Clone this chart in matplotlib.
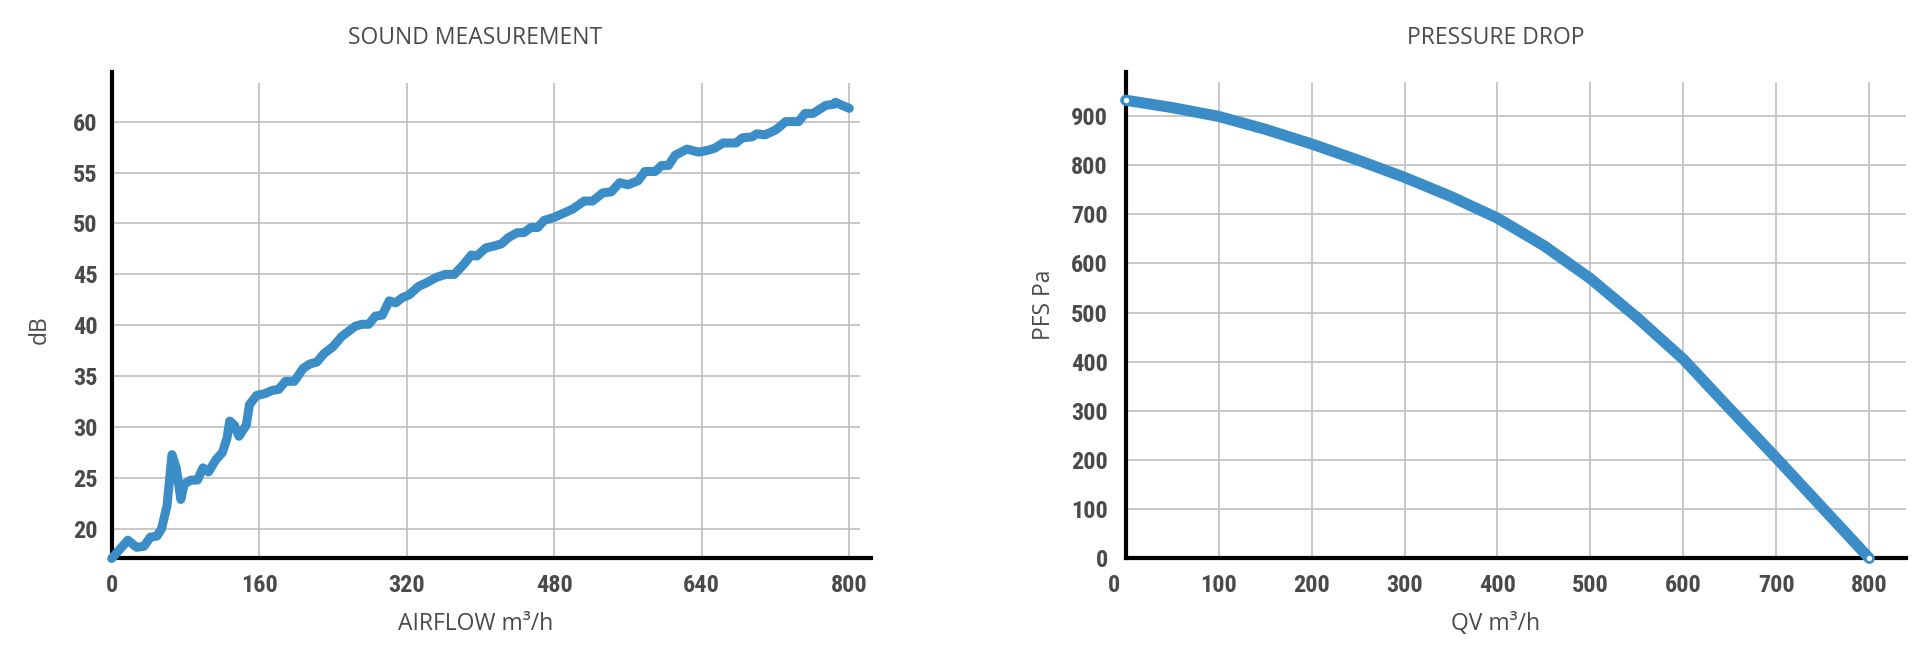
import matplotlib
matplotlib.use('Agg')
import matplotlib.pyplot as plt
from matplotlib import font_manager as fm
import matplotlib.transforms as mtrans

# ---------------- data ----------------
sound_airflow = [0, 17.6, 27, 35, 42, 49, 54, 60, 65.4, 70, 75, 78.6, 86, 93, 99, 105, 113, 120, 125, 128,
                 133, 138, 146, 149.4, 157, 166.5, 174, 181, 188.5, 198, 208, 215, 222.7, 230, 240, 249.5,
                 264, 271.5, 278.8, 286, 293.5, 301, 308, 315, 322.8, 332.5, 342, 352, 362, 371.6, 381, 390,
                 396, 405.8, 415.5, 422.8, 430, 440, 447, 454.6, 462, 469, 480, 492.4, 499.7, 512.5, 521.6,
                 532.6, 541.7, 550.9, 560, 571, 578.3, 589.3, 596.6, 603.9, 611.2, 624, 636.7, 647.3, 654.3,
                 663, 671.7, 677, 684, 694.4, 699.6, 708.3, 713.5, 720.5, 731, 738, 745, 752, 760.6, 767.6,
                 774.6, 783.3, 785, 792, 800]
sound_db = [17.1, 18.9, 18.2, 18.3, 19.2, 19.3, 20.0, 22.3, 27.3, 26.0, 22.9, 24.4, 24.8, 24.8, 26.0, 25.6,
            26.8, 27.5, 28.9, 30.6, 30.2, 29.1, 30.2, 32.2, 33.1, 33.3, 33.6, 33.7, 34.5, 34.5, 35.8, 36.2,
            36.4, 37.2, 37.9, 38.9, 39.9, 40.1, 40.1, 40.9, 41.0, 42.4, 42.2, 42.7, 43.0, 43.8, 44.2, 44.7,
            45.0, 45.0, 45.9, 46.9, 46.8, 47.6, 47.8, 48.0, 48.6, 49.1, 49.1, 49.6, 49.6, 50.3, 50.6, 51.1,
            51.4, 52.2, 52.2, 53.0, 53.1, 54.0, 53.8, 54.2, 55.1, 55.1, 55.7, 55.7, 56.7, 57.3, 57.0, 57.2,
            57.4, 57.9, 57.9, 57.9, 58.4, 58.5, 58.8, 58.7, 58.9, 59.2, 60.0, 60.0, 60.0, 60.8, 60.8, 61.2,
            61.6, 61.7, 61.9, 61.6, 61.3]
sound_xticks = [0, 160, 320, 480, 640, 800]
sound_yticks = [20, 25, 30, 35, 40, 45, 50, 55, 60]

pressure_qv = [0, 50, 100, 150, 200, 250, 300, 350, 400, 450, 500, 550, 600, 650, 700, 750, 800]
pressure_pa = [932, 917, 899, 873, 843, 810, 775, 736, 692, 636, 569, 490, 405, 304, 204, 102, 0]
pressure_xticks = [0, 100, 200, 300, 400, 500, 600, 700, 800]
pressure_yticks = [0, 100, 200, 300, 400, 500, 600, 700, 800, 900]

titles = ["SOUND MEASUREMENT", "PRESSURE DROP"]
xlabels = ["AIRFLOW m³/h", "QV m³/h"]
ylabels = ["dB", "PFS Pa"]

# ---------------- fonts ----------------
available = {f.name for f in fm.fontManager.ttflist}
def pick(cands):
    for c in cands:
        if c in available:
            return c
    return 'DejaVu Sans'

tick_font = pick(['Roboto Condensed', 'Liberation Sans Narrow', 'Open Sans Condensed', 'Roboto'])
label_font = pick(['Open Sans', 'Noto Sans', 'DejaVu Sans'])

W, H = 1928, 661
fig = plt.figure(figsize=(W / 100, H / 100), dpi=100)
fig.patch.set_facecolor('white')

BLUE = '#3a8dc6'
TXT = '#4a4a4a'
TICK = '#4a4a4a'
GRID = '#bfbfbf'

def px_axes(x0, y0, x1, y1):
    return fig.add_axes([x0 / W, 1 - y1 / H, (x1 - x0) / W, (y1 - y0) / H])

def style(ax, xticks, yticks, xlim, ylim, hgrid_end, vgrid_top, ypad):
    ax.set_xlim(*xlim)
    ax.set_ylim(*ylim)
    ax.set_xticks(xticks)
    ax.set_yticks(yticks)
    for s in ['top', 'right']:
        ax.spines[s].set_visible(False)
    for s in ['left', 'bottom']:
        ax.spines[s].set_linewidth(3)
        ax.spines[s].set_color('black')
        ax.spines[s].set_zorder(3)
    ax.tick_params(axis='both', length=0, labelsize=17.5, labelcolor=TICK)
    ax.tick_params(axis='x', pad=11)
    ax.tick_params(axis='y', pad=ypad)
    for lab in ax.get_xticklabels() + ax.get_yticklabels():
        lab.set_fontfamily(tick_font)
        lab.set_fontweight('heavy')
    ax.hlines([y for y in yticks if y > ylim[0] + 1e-9], xlim[0], hgrid_end,
              colors=GRID, linewidth=1.2, zorder=1)
    ax.vlines([x for x in xticks if x > xlim[0] + 1e-9], ylim[0], vgrid_top,
              colors=GRID, linewidth=1.2, zorder=1)

# ---------------- left chart ----------------
ax1 = px_axes(111.7, 71.7, 870.7, 558.3)
style(ax1, sound_xticks, sound_yticks, (0, 823.2), (17.12, 64.9), 811.6, 63.8, 10)
ax1.plot(sound_airflow, sound_db, color=BLUE, linewidth=6.5, solid_capstyle='round',
         solid_joinstyle='round', zorder=4, clip_on=False)

# ---------------- right chart ----------------
ax2 = px_axes(1125.7, 71.7, 1906, 558.3)
style(ax2, pressure_xticks, pressure_yticks, (0, 839.5), (0, 990), 839.5, 969, 13)
ax2.plot(pressure_qv, pressure_pa, color=BLUE, linewidth=8, solid_capstyle='round',
         solid_joinstyle='round', zorder=4, clip_on=False)
ax2.plot([pressure_qv[0], pressure_qv[-1]], [pressure_pa[0], pressure_pa[-1]], linestyle='none',
         marker='o', markersize=5.5, markerfacecolor='white', markeredgecolor=BLUE,
         markeredgewidth=1.6, zorder=5, clip_on=False)
# first x label sits slightly left of the axis in the reference
fig.canvas.draw()
lab0 = ax2.get_xticklabels()[0]
lab0.set_transform(lab0.get_transform() + mtrans.ScaledTranslation(-12 / 100, 0, fig.dpi_scale_trans))

# ---------------- texts ----------------
def ftext(x, y, s, **kw):
    fig.text(x / W, 1 - y / H, s, fontfamily=label_font, color=TXT, ha='center', va='center',
             fontweight='medium', **kw)

ftext(475, 38, titles[0], fontsize=16.5)
ftext(1496, 38, titles[1], fontsize=16.5)
ftext(476, 624, xlabels[0], fontsize=16.5)
ftext(1496, 624, xlabels[1], fontsize=16.5)
ftext(40, 330, ylabels[0], fontsize=16.5, rotation=90)
ftext(1044, 305, ylabels[1], fontsize=16.5, rotation=90)

fig.savefig('out.png', dpi=100, facecolor='white')
